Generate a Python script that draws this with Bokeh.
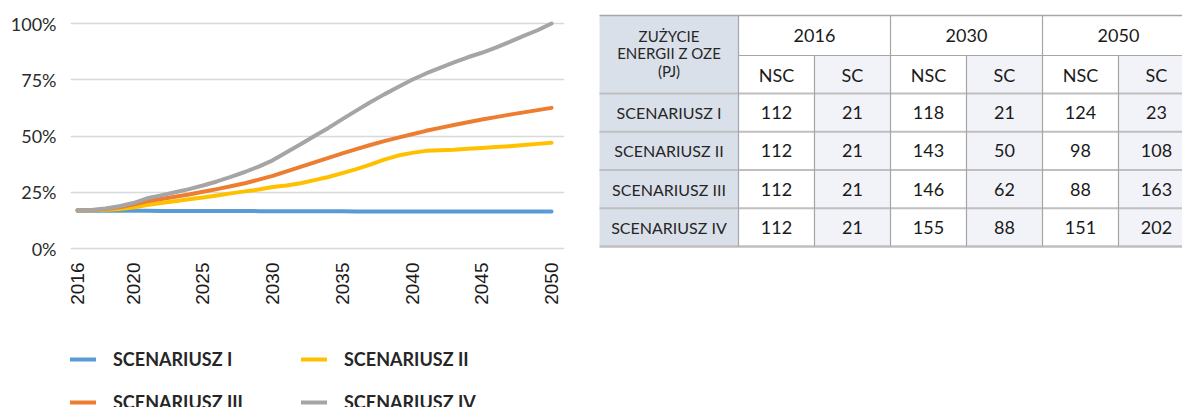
import math
from bokeh.plotting import figure
from bokeh.models import Range1d, FixedTicker, Legend, LegendItem, ColumnDataSource
from bokeh.layouts import row, column
from bokeh.embed import file_html
from bokeh.resources import INLINE
from bokeh.core.properties import value

# ---------------- data ----------------
years = list(range(2016, 2051))
scenario_names = ["SCENARIUSZ I", "SCENARIUSZ II", "SCENARIUSZ III", "SCENARIUSZ IV"]
scen_1 = [16.8, 16.8, 16.8, 16.8, 16.8, 16.8, 16.7, 16.7, 16.7, 16.7, 16.7, 16.7,
          16.7, 16.6, 16.6, 16.6, 16.6, 16.6, 16.6, 16.6, 16.5, 16.5, 16.5, 16.5,
          16.5, 16.5, 16.5, 16.5, 16.4, 16.4, 16.4, 16.4, 16.4, 16.4, 16.4]
scen_2 = [17.0, 17.0, 17.2, 17.6, 18.2, 19.3, 20.2, 21.0, 21.9, 22.7, 23.6, 24.5,
          25.4, 26.2, 27.3, 28.0, 29.0, 30.4, 31.8, 33.5, 35.3, 37.3, 39.5, 41.3,
          42.5, 43.4, 43.7, 43.9, 44.3, 44.7, 45.1, 45.5, 46.0, 46.5, 47.0]
scen_3 = [17.0, 17.0, 17.5, 18.3, 19.5, 21.0, 22.0, 23.0, 24.0, 25.2, 26.4, 27.7,
          29.0, 30.6, 32.3, 34.3, 36.3, 38.3, 40.3, 42.3, 44.2, 46.0, 47.7, 49.3,
          50.8, 52.3, 53.6, 54.9, 56.1, 57.3, 58.4, 59.5, 60.5, 61.5, 62.5]
scen_4 = [17.0, 17.1, 17.8, 18.8, 20.2, 22.3, 23.6, 25.0, 26.4, 28.0, 29.8, 31.8,
          34.0, 36.4, 39.2, 42.8, 46.3, 50.0, 53.6, 57.5, 61.3, 65.0, 68.5, 71.8,
          75.0, 77.8, 80.3, 82.7, 85.0, 87.0, 89.3, 91.8, 94.5, 97.0, 100.0]
series = [scen_1, scen_2, scen_3, scen_4]
colors = ["#5b9bd5", "#ffc000", "#ed7d31", "#a5a5a5"]

x_ticks = [2016, 2020, 2025, 2030, 2035, 2040, 2045, 2050]
x_tick_labels = ["2016", "2020", "2025", "2030", "2035", "2040", "2045", "2050"]
y_ticks = [0, 25, 50, 75, 100]
y_tick_labels = ["0%", "25%", "50%", "75%", "100%"]

table_title = ["ZUŻYCIE", "ENERGII Z OZE", "(PJ)"]
table_years = ["2016", "2030", "2050"]
table_sub = ["NSC", "SC"]
table_rows = ["SCENARIUSZ I", "SCENARIUSZ II", "SCENARIUSZ III", "SCENARIUSZ IV"]
nsc_2016 = [112, 112, 112, 112]
sc_2016 = [21, 21, 21, 21]
nsc_2030 = [118, 143, 146, 155]
sc_2030 = [21, 50, 62, 88]
nsc_2050 = [124, 98, 88, 151]
sc_2050 = [23, 108, 163, 202]
table_values = [nsc_2016, sc_2016, nsc_2030, sc_2030, nsc_2050, sc_2050]

# ---------------- layout constants ----------------
H1 = 320            # chart + table row
H2 = 407 - H1       # legend strip
W1 = 590
W2 = 1182 - W1
B_TOP = 10
B_BOTTOM = 67
B_LEFT = 70
B_RIGHT = 26
FRAME_TOP = B_TOP
FRAME_BOTTOM = H1 - B_BOTTOM

# ---------------- chart ----------------
p = figure(width=W1, height=H1, output_backend="svg", toolbar_location=None,
           x_range=Range1d(2015.5, 2050.93), y_range=Range1d(-2.22, 105.78),
           min_border_left=B_LEFT, min_border_right=B_RIGHT, min_border_top=B_TOP,
           min_border_bottom=B_BOTTOM)
p.outline_line_color = None
p.background_fill_color = "white"
p.border_fill_color = "white"

p.xgrid.visible = False
p.ygrid.grid_line_color = "#d9d9d9"
p.ygrid.grid_line_width = 1.5

p.yaxis.ticker = FixedTicker(ticks=y_ticks)
p.yaxis.major_label_overrides = {t: l for t, l in zip(y_ticks, y_tick_labels)}
p.xaxis.ticker = FixedTicker(ticks=x_ticks)
p.xaxis.major_label_overrides = {t: l for t, l in zip(x_ticks, x_tick_labels)}
p.xaxis.major_label_orientation = math.pi / 2
for ax in (p.xaxis, p.yaxis):
    ax.axis_line_color = None
    ax.major_tick_line_color = None
    ax.minor_tick_line_color = None
    ax.major_tick_out = 0
    ax.major_tick_in = 0
p.yaxis.major_label_text_font = "Lato"
p.yaxis.major_label_text_font_size = "18px"
p.yaxis.major_label_text_color = "#2b2b2b"
p.yaxis.major_label_standoff = 14
p.xaxis.major_label_text_font = "Liberation Sans"
p.xaxis.major_label_text_font_size = "19px"
p.xaxis.major_label_text_color = "#1a1a1a"
p.xaxis.major_label_standoff = 9

for s, c in zip(series, colors):
    p.line(years, s, line_color=c, line_width=4, line_join="round", line_cap="round")

# ---------------- legend strip ----------------
lf = figure(width=W1, height=H2, output_backend="svg", toolbar_location=None,
            x_range=Range1d(0, 1), y_range=Range1d(0, 1),
            min_border_left=B_LEFT, min_border_right=B_RIGHT, min_border_top=0,
            min_border_bottom=0, x_axis_location=None, y_axis_location=None)
lf.outline_line_color = None
lf.grid.visible = False
lf.background_fill_color = "white"
lf.border_fill_color = "white"
legend_renderers = []
for s, c in zip(series, colors):
    # same series, lying outside this strip's ranges: only the legend swatch shows
    legend_renderers.append(lf.line(years, s, line_color=c, line_width=4, line_cap="round"))

legend = Legend(items=[LegendItem(label=n, renderers=[r]) for n, r in zip(scenario_names, legend_renderers)],
                orientation="horizontal", ncols=2, location=(0, -6),
                label_text_font="Lato", label_text_font_style="bold",
                label_text_font_size="18px", label_text_color="#262626",
                glyph_width=26, glyph_height=20, label_standoff=17,
                label_width=167, label_height=20, spacing=21, padding=0, margin=0,
                border_line_color=None, background_fill_alpha=0)
lf.add_layout(legend)

# ---------------- table ----------------
X0 = W1
t = figure(width=W2, height=H1, output_backend="svg", toolbar_location=None,
           x_range=Range1d(X0, X0 + W2), y_range=Range1d(FRAME_BOTTOM, FRAME_TOP),
           min_border_left=0, min_border_right=0, min_border_top=B_TOP,
           min_border_bottom=B_BOTTOM, x_axis_location=None, y_axis_location=None)
t.outline_line_color = None
t.grid.visible = False
t.background_fill_color = "white"
t.border_fill_color = "white"

LEFT = 599
COL0 = 139
COLW = 76
TOP = 15
HDR1 = 40
HDR2 = 38
ROWH = 38.25
LABEL_BG = "#dae0ea"
SC_BG = "#f2f3f8"

col_edges = [LEFT + COL0 + i * COLW for i in range(len(table_values) + 1)]
row_top = TOP + HDR1 + HDR2
row_edges = [row_top + i * ROWH for i in range(len(table_rows) + 1)]

cells = dict(left=[], right=[], top=[], bottom=[], color=[])
def add_cell(l, r, tp, b, c):
    cells["left"].append(l); cells["right"].append(r)
    cells["top"].append(tp); cells["bottom"].append(b); cells["color"].append(c)

add_cell(LEFT, col_edges[0], TOP, row_top, LABEL_BG)
for i in range(len(table_rows)):
    add_cell(LEFT, col_edges[0], row_edges[i], row_edges[i + 1], LABEL_BG)
for j in range(len(table_values)):
    c = "white" if j % 2 == 0 else SC_BG
    add_cell(col_edges[j], col_edges[j + 1], TOP + HDR1, row_edges[-1], c)
for k in range(len(table_years)):
    add_cell(col_edges[2 * k], col_edges[2 * k + 2], TOP, TOP + HDR1, "white")
t.quad(left="left", right="right", top="top", bottom="bottom", fill_color="color",
       line_color=None, source=ColumnDataSource(cells))

segs = dict(x0=[], y0=[], x1=[], y1=[], color=[], width=[])
def add_seg(x0, y0, x1, y1, c, w):
    segs["x0"].append(x0); segs["y0"].append(y0); segs["x1"].append(x1)
    segs["y1"].append(y1); segs["color"].append(c); segs["width"].append(w)

RIGHT = col_edges[-1]
add_seg(LEFT, TOP, RIGHT, TOP, "#a6a6a6", 1.5)
add_seg(col_edges[0], TOP + HDR1, RIGHT, TOP + HDR1, "#a6a6a6", 1.2)
for i, y in enumerate(row_edges):
    w = 2.5 if i == len(row_edges) - 1 else 2
    add_seg(LEFT, y, RIGHT, y, "#bfbfbf", w)
for j, x in enumerate(col_edges[:-1]):
    y_start = TOP if j % 2 == 0 else TOP + HDR1
    add_seg(x, y_start, x, row_edges[-1], "#a6a6a6", 1.2)
t.segment(x0="x0", y0="y0", x1="x1", y1="y1", line_color="color", line_width="width",
          source=ColumnDataSource(segs))

c0 = LEFT + COL0 / 2
title_y = [TOP + 20, TOP + 37.5, TOP + 55.5]
t.text(x=[c0] * len(table_title), y=title_y, text=table_title, text_font=value("Lato"),
       text_font_size=value("15px"), text_color="#262626", text_align="center",
       text_baseline="middle")
row_centers = [(row_edges[i] + row_edges[i + 1]) / 2 for i in range(len(table_rows))]
t.text(x=[c0] * len(table_rows), y=row_centers, text=table_rows, text_font=value("Lato"),
       text_font_size=value("16px"), text_color="#262626", text_align="center",
       text_baseline="middle")
year_x = [col_edges[2 * k] + COLW for k in range(len(table_years))]
t.text(x=year_x, y=[TOP + HDR1 / 2] * len(table_years), text=table_years,
       text_font=value("Lato"), text_font_size=value("18px"), text_color="#1a1a1a",
       text_align="center", text_baseline="middle")
sub_x = [col_edges[j] + COLW / 2 for j in range(len(table_values))]
sub_txt = [table_sub[j % 2] for j in range(len(table_values))]
t.text(x=sub_x, y=[TOP + HDR1 + HDR2 / 2] * len(sub_x), text=sub_txt,
       text_font=value("Lato"), text_font_size=value("18px"), text_color="#1a1a1a",
       text_align="center", text_baseline="middle")
vx, vy, vt = [], [], []
for j, col in enumerate(table_values):
    for i, v in enumerate(col):
        vx.append(sub_x[j]); vy.append(row_centers[i]); vt.append(str(v))
t.text(x=vx, y=vy, text=vt, text_font=value("Lato"), text_font_size=value("18px"),
       text_color="#1a1a1a", text_align="center", text_baseline="middle")

layout = column(row(p, t), lf)
open("out.html", "w").write(file_html(layout, INLINE))
